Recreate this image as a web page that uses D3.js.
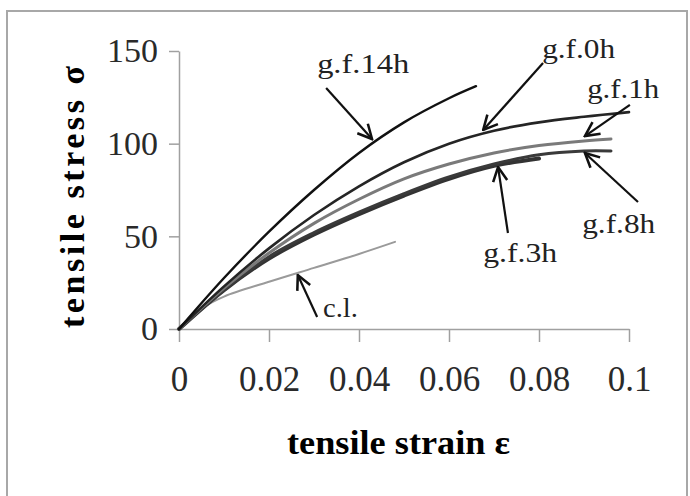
<!DOCTYPE html>
<html>
<head>
<meta charset="utf-8">
<script src="https://cdn.jsdelivr.net/npm/d3@7"></script>
<style>
  body { margin: 0; background: #fff; }
  svg { display: block; }
</style>
</head>
<body>
<div id="chart"></div>
<script>
// strain / stress
const strain14h = [0, 0.01, 0.02, 0.03, 0.04, 0.05, 0.06, 0.066];
const stress14h = [0, 27.5, 52.5, 75, 95, 111.5, 124.5, 131];

const strain0h = [0, 0.01, 0.02, 0.03, 0.04, 0.05, 0.06, 0.07, 0.08, 0.09, 0.1];
const stress0h = [0, 23, 43.5, 61.5, 77, 90, 100, 107, 111.5, 114.5, 117];

const strain1h = [0, 0.01, 0.02, 0.03, 0.04, 0.05, 0.06, 0.07, 0.08, 0.09, 0.096];
const stress1h = [0, 22, 41, 57, 70, 81, 89, 95, 99, 101.5, 102.5];

const strain8h = [0, 0.01, 0.02, 0.03, 0.04, 0.05, 0.06, 0.07, 0.08, 0.09, 0.096];
const stress8h = [0, 21, 39, 52, 63, 73, 82, 89, 94, 96, 96];

const strain3h = [0, 0.01, 0.02, 0.03, 0.04, 0.05, 0.06, 0.07, 0.08];
const stress3h = [0, 21, 38, 51, 62, 72, 81, 88, 92];

const strainCl = [0, 0.005, 0.01, 0.02, 0.03, 0.04, 0.048];
const stressCl = [0, 11, 17.5, 25.5, 33, 40.5, 47];

const xTicks = [0, 0.02, 0.04, 0.06, 0.08, 0.1];
const xTickLabels = ["0", "0.02", "0.04", "0.06", "0.08", "0.1"];
const yTicks = [0, 50, 100, 150];

// label anchor, arrow tail, arrow tip (in strain/stress units), label width
const labelNames = ["g.f.14h", "g.f.0h", "g.f.1h", "g.f.8h", "g.f.3h", "c.l."];
const labelAt = [[0.0307, 138.1], [0.0807, 146.2], [0.0907, 124.6], [0.0896, 51.8], [0.0676, 36.2], [0.032, 6.5]];
const labelWidth = [92, 73, 72, 73, 74, 35];
const arrowFrom = [[0.0327, 130.0], [0.0809, 143.5], [0.1002, 120.9], [0.102, 68.5], [0.0731, 51.8], [0.0307, 6.5]];
const arrowTo = [[0.0429, 102.5], [0.0676, 107.4], [0.0902, 104.1], [0.0902, 95.0], [0.0709, 87.4], [0.0264, 29.1]];

const series = [
  { name: "c.l.", xs: strainCl, ys: stressCl, color: "#9a9a9a", w: 2 },
  { name: "g.f.3h", xs: strain3h, ys: stress3h, color: "#333", w: 4 },
  { name: "g.f.8h", xs: strain8h, ys: stress8h, color: "#3a3a3a", w: 3 },
  { name: "g.f.1h", xs: strain1h, ys: stress1h, color: "#7a7a7a", w: 3 },
  { name: "g.f.0h", xs: strain0h, ys: stress0h, color: "#252525", w: 2.6 },
  { name: "g.f.14h", xs: strain14h, ys: stress14h, color: "#111", w: 2.4 }
];

const W = 690, H = 496;
const svg = d3.select("#chart").append("svg")
  .attr("width", W)
  .attr("height", H);

// outer frame (bottom runs off the picture)
svg.append("rect")
  .attr("x", 7).attr("y", 11)
  .attr("width", 680).attr("height", 500)
  .attr("fill", "none")
  .attr("stroke", "#a8a8a8")
  .attr("stroke-width", 2);

const x = d3.scaleLinear().domain([0, 0.1]).range([179, 629]);
const y = d3.scaleLinear().domain([0, 150]).range([329, 51]);

const xAxis = svg.append("g")
  .attr("transform", "translate(0,329)")
  .call(d3.axisBottom(x)
    .tickValues(xTicks)
    .tickFormat((d, i) => xTickLabels[i])
    .tickSize(13)
    .tickSizeOuter(0)
    .tickPadding(24));

const yAxis = svg.append("g")
  .attr("transform", "translate(179,0)")
  .call(d3.axisLeft(y)
    .tickValues(yTicks)
    .tickSize(10)
    .tickSizeOuter(0)
    .tickPadding(11));

[xAxis, yAxis].forEach(g => {
  g.selectAll("path, line").attr("stroke", "#a0a0a0").attr("stroke-width", 1.5);
  g.selectAll("text")
    .attr("fill", "#2a2a2a")
    .style("font-family", "'Liberation Serif', serif");
});
xAxis.selectAll("text").style("font-size", "35px");
yAxis.selectAll("text").style("font-size", "34px");

// curves
const line = d3.line()
  .x(d => x(d[0]))
  .y(d => y(d[1]))
  .curve(d3.curveCatmullRom.alpha(0.5));

svg.append("g").selectAll("path")
  .data(series)
  .enter()
  .append("path")
  .attr("d", s => line(s.xs.map((v, i) => [v, s.ys[i]])))
  .attr("fill", "none")
  .attr("stroke", s => s.color)
  .attr("stroke-width", s => s.w)
  .attr("stroke-linecap", "round");

// arrows + labels
svg.append("defs").append("marker")
  .attr("id", "head")
  .attr("viewBox", "0 0 12 12")
  .attr("refX", 11)
  .attr("refY", 6)
  .attr("markerUnits", "userSpaceOnUse")
  .attr("markerWidth", 17)
  .attr("markerHeight", 17)
  .attr("orient", "auto")
  .append("path")
  .attr("d", "M1,1 L11,6 L1,11")
  .attr("fill", "none")
  .attr("stroke", "#111")
  .attr("stroke-width", 1.8);

const ann = svg.append("g");
labelNames.forEach((name, i) => {
  ann.append("line")
    .attr("x1", x(arrowFrom[i][0])).attr("y1", y(arrowFrom[i][1]))
    .attr("x2", x(arrowTo[i][0])).attr("y2", y(arrowTo[i][1]))
    .attr("stroke", "#111")
    .attr("stroke-width", 2.2)
    .attr("marker-end", "url(#head)");
  ann.append("text")
    .attr("x", x(labelAt[i][0]))
    .attr("y", y(labelAt[i][1]))
    .attr("fill", "#222")
    .attr("textLength", labelWidth[i])
    .attr("lengthAdjust", "spacingAndGlyphs")
    .style("font-family", "'Liberation Serif', serif")
    .style("font-size", "27px")
    .text(name);
});

// axis titles
svg.append("text")
  .attr("x", 287)
  .attr("y", 454)
  .attr("textLength", 223)
  .attr("lengthAdjust", "spacingAndGlyphs")
  .style("font-family", "'Liberation Serif', serif")
  .style("font-size", "34px")
  .style("font-weight", "bold")
  .text("tensile strain ε");

svg.append("text")
  .attr("transform", "translate(84,328) rotate(-90)")
  .attr("x", 0)
  .attr("y", 0)
  .attr("textLength", 262)
  .attr("lengthAdjust", "spacing")
  .style("font-family", "'Liberation Serif', serif")
  .style("font-size", "34px")
  .style("font-weight", "bold")
  .text("tensile stress σ");
</script>
</body>
</html>
